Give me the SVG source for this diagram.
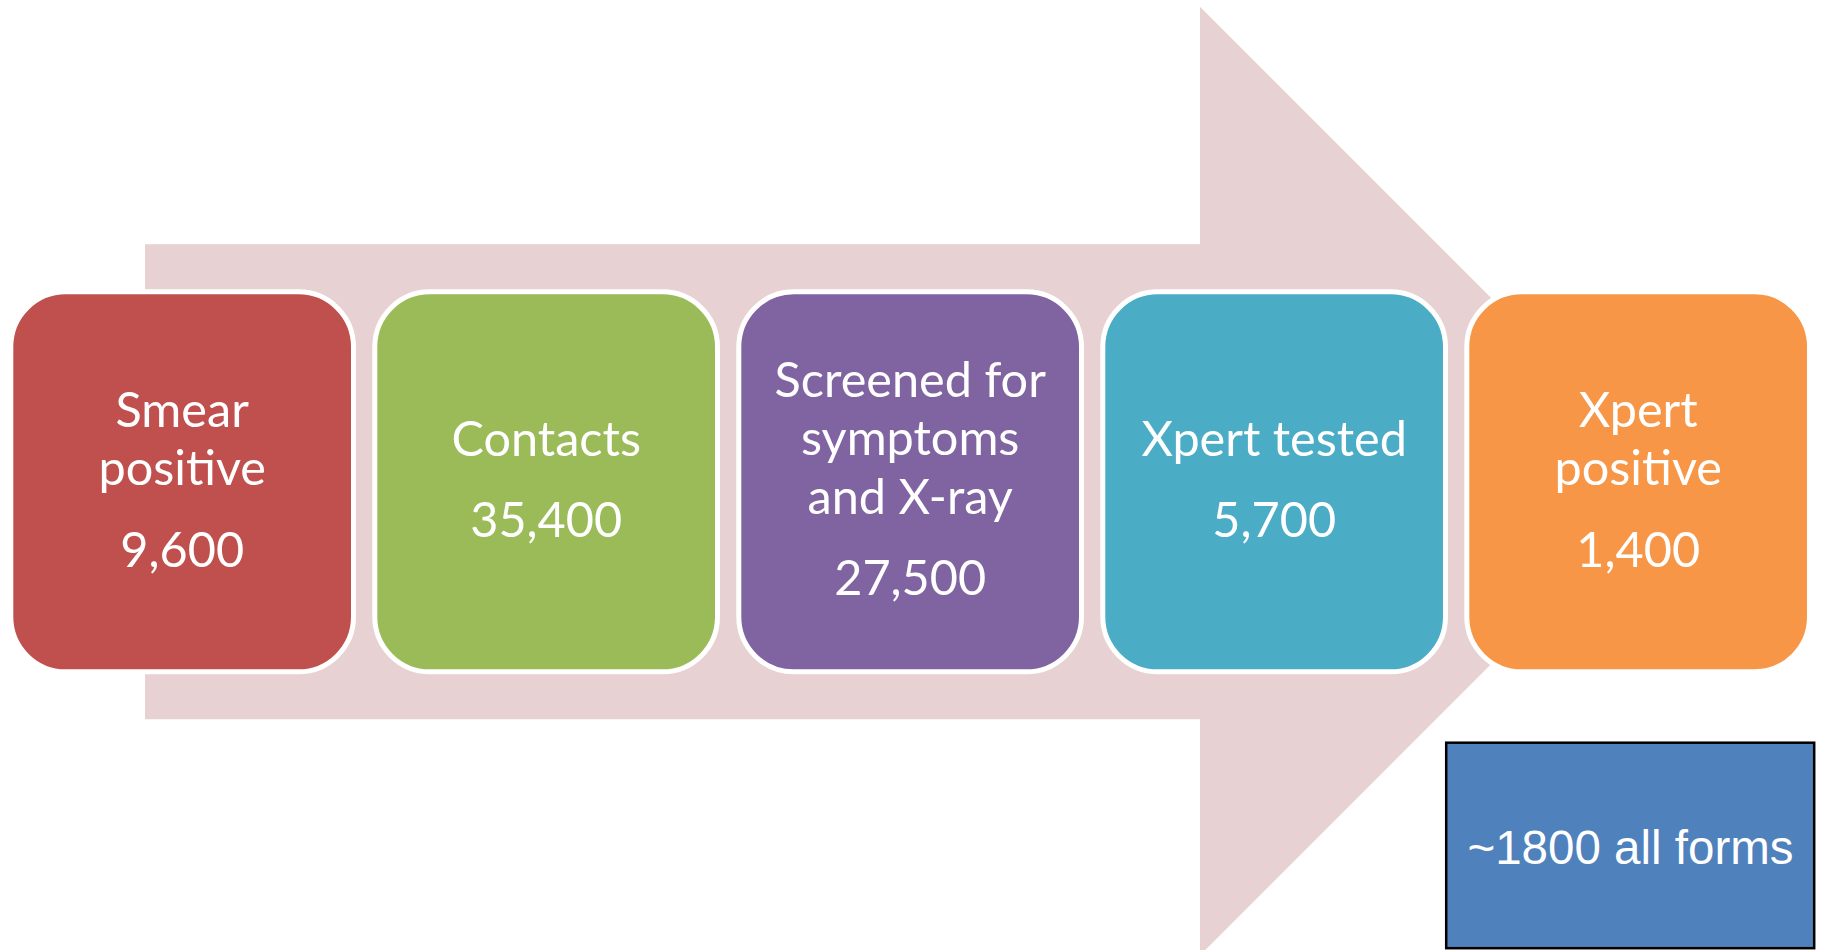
<svg xmlns="http://www.w3.org/2000/svg" width="1824" height="950" viewBox="0 0 1824 950">
  <style>
    .step { stroke: #FFFFFF; stroke-width: 5; }
    .label { font-family: Lato, "Open Sans", sans-serif; font-size: 48.6px; fill: #FFFFFF; text-anchor: middle; }
    .note { font-family: "Liberation Sans", Arial, sans-serif; font-size: 47.5px; fill: #FFFFFF; text-anchor: middle; }
  </style>

  <rect width="1824" height="950" fill="#FFFFFF"/>

  <!-- background process arrow -->
  <g id="connectors">
    <polygon points="145,244.3 1200,244.3 1200,6.7 1674.2,481 1200,955.3 1200,719.3 145,719.3" fill="#E8D1D2"/>
  </g>

  <g id="smear-positive">
    <rect class="step" x="10.8" y="291.8" width="342.7" height="380" rx="55" fill="#C0504D"/>
    <text class="label" x="182.2" y="426.7">Smear</text>
    <text class="label" x="182.2" y="485">positive</text>
    <text class="label" x="182.2" y="566.7">9,600</text>
  </g>

  <g id="contacts">
    <rect class="step" x="374.8" y="291.8" width="342.7" height="380" rx="55" fill="#9BBB59"/>
    <text class="label" x="546.2" y="456.4">Contacts</text>
    <text class="label" x="546.2" y="537">35,400</text>
  </g>

  <g id="screened">
    <rect class="step" x="738.8" y="291.8" width="342.7" height="380" rx="55" fill="#8064A2"/>
    <text class="label" x="910.2" y="396.9">Screened for</text>
    <text class="label" x="910.2" y="455.2">symptoms</text>
    <text class="label" x="910.2" y="513.5">and X-ray</text>
    <text class="label" x="910.2" y="595.2">27,500</text>
  </g>

  <g id="xpert-tested">
    <rect class="step" x="1102.8" y="291.8" width="342.7" height="380" rx="55" fill="#4BACC6"/>
    <text class="label" x="1274.2" y="456.4">Xpert tested</text>
    <text class="label" x="1274.2" y="537">5,700</text>
  </g>

  <g id="xpert-positive">
    <rect class="step" x="1466.8" y="291.8" width="342.7" height="380" rx="55" fill="#F79646"/>
    <text class="label" x="1638.2" y="426.7">Xpert</text>
    <text class="label" x="1638.2" y="485">positive</text>
    <text class="label" x="1638.2" y="566.7">1,400</text>
  </g>

  <g id="all-forms">
    <rect x="1446.2" y="742.7" width="368" height="205.5" fill="#4F81BD" stroke="#000000" stroke-width="2.5"/>
    <text class="note" x="1630.5" y="864">~1800 all forms</text>
  </g>
</svg>
